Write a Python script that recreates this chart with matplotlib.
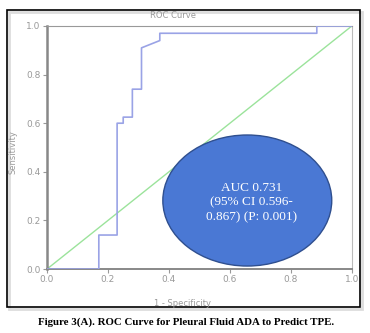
import matplotlib
matplotlib.use("Agg")
import matplotlib.pyplot as plt
from matplotlib.patches import Ellipse, Rectangle

# ROC curve (1 - specificity, sensitivity)
fpr = [0.0, 0.17, 0.17, 0.23, 0.23, 0.25, 0.25, 0.28, 0.28, 0.31, 0.31, 0.37, 0.37, 0.885, 0.885, 1.0]
tpr = [0.0, 0.0, 0.14, 0.14, 0.60, 0.60, 0.625, 0.625, 0.74, 0.74, 0.91, 0.94, 0.97, 0.97, 1.0, 1.0]
ref_line = [0.0, 1.0]
ticks = [0.0, 0.2, 0.4, 0.6, 0.8, 1.0]
tick_labels = ["0.0", "0.2", "0.4", "0.6", "0.8", "1.0"]
auc_text = "AUC 0.731\n(95% CI 0.596-\n0.867) (P: 0.001)"
caption = "Figure 3(A). ROC Curve for Pleural Fluid ADA to Predict TPE."

fig = plt.figure(figsize=(3.7, 3.33), dpi=100)
ax = fig.add_axes([0.127, 0.192, 0.824, 0.730])

ax.plot(fpr, tpr, color="#9aa3e6", lw=1.2, zorder=3)
ax.plot(ref_line, ref_line, color="#9be39b", lw=1.0, zorder=2)

# blue callout box
ell = Ellipse((0.657, 0.282), 0.554, 0.539, facecolor="#4a78d4", edgecolor="#2f4f8f",
              lw=1.0, zorder=4)
ax.add_patch(ell)
ax.text(0.672, 0.275, auc_text, color="white", ha="center", va="center",
        fontsize=9.5, family="Liberation Serif", linespacing=1.3, zorder=5)

ax.set_xlim(0, 1)
ax.set_ylim(0, 1)
ax.set_xticks(ticks)
ax.set_xticklabels(tick_labels)
ax.set_yticks(ticks)
ax.set_yticklabels(tick_labels)
ax.tick_params(colors="#999999", labelsize=6.5, length=3, width=0.8, pad=1.5)
ax.spines["left"].set_color("#888888")
ax.spines["left"].set_linewidth(1.8)
ax.spines["bottom"].set_color("#888888")
ax.spines["bottom"].set_linewidth(1.4)
ax.spines["top"].set_color("#999999")
ax.spines["top"].set_linewidth(0.8)
ax.spines["right"].set_color("#bbbbbb")
ax.spines["right"].set_linewidth(0.8)

fig.text(173 / 370, 1 - 15 / 333, "ROC Curve", ha="center", va="center",
         fontsize=6, color="#999999")
fig.text(182 / 370, 1 - 303 / 333, "1 - Specificity", ha="center", va="center",
         fontsize=6, color="#999999")
fig.text(13 / 370, 1 - 152 / 333, "Sensitivity", ha="center", va="center",
         fontsize=6, color="#999999", rotation=90)

# outer frame with a faint shadow
fig.patches.append(Rectangle((9 / 370, 1 - 309 / 333), 353 / 370, 297 / 333,
                             transform=fig.transFigure, fill=False,
                             edgecolor="#dddddd", lw=2.0, zorder=0))
fig.patches.append(Rectangle((7 / 370, 1 - 307 / 333), 353 / 370, 297 / 333,
                             transform=fig.transFigure, fill=False,
                             edgecolor="black", lw=1.2, zorder=1))

fig.text(186 / 370, 1 - 322 / 333, caption, ha="center", va="center",
         fontsize=7.8, family="Liberation Serif", weight="bold")

fig.savefig("out.png", dpi=100)
